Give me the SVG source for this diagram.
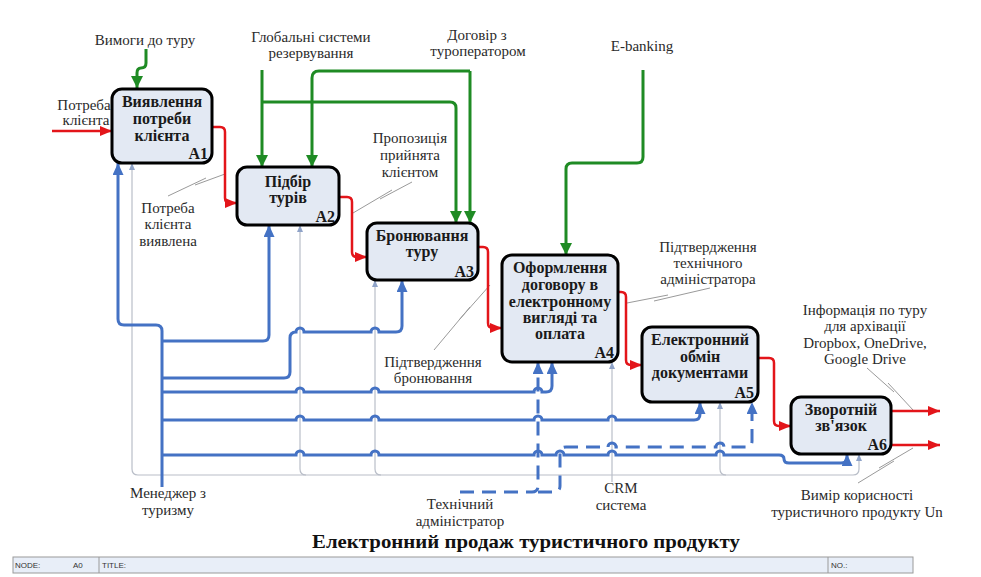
<svg xmlns="http://www.w3.org/2000/svg" width="981" height="577" viewBox="0 0 981 577">
<style>
.bg{fill:#ffffff}
.box{fill:#e3e9f3;stroke:#000;stroke-width:3}
.bt{font-family:"Liberation Serif","Times New Roman",serif;font-weight:bold;font-size:16px;fill:#1a1a1a;text-anchor:middle}
.bn{font-family:"Liberation Serif","Times New Roman",serif;font-weight:bold;font-size:16px;fill:#1a1a1a;text-anchor:end}
.lb{font-family:"Liberation Serif","Times New Roman",serif;font-size:15px;fill:#2a2a2a;text-anchor:middle}
.red{fill:none;stroke:#e3151a;stroke-width:2.5}
.grn{fill:none;stroke:#1f8b24;stroke-width:3}
.blu{fill:none;stroke:#4472c4;stroke-width:3}
.dsh{fill:none;stroke:#4472c4;stroke-width:3;stroke-dasharray:14 8}
.gry{fill:none;stroke:#b9bec8;stroke-width:1.2}
.ldr{fill:none;stroke:#9a9a9a;stroke-width:1}
.bar{fill:#e8eef8;stroke:#9a9a9a;stroke-width:1}
.bartx{font-family:"Liberation Sans",Arial,sans-serif;font-size:8px;fill:#333}
.title{font-family:"Liberation Serif","Times New Roman",serif;font-weight:bold;font-size:19px;fill:#111;text-anchor:middle}
</style>
<defs>
<marker id="mRed" markerUnits="userSpaceOnUse" markerWidth="12" markerHeight="10" refX="12" refY="5" orient="auto"><path d="M0,0 L12,5 L0,10 z" fill="#e3151a"/></marker>
<marker id="mGrn" markerUnits="userSpaceOnUse" markerWidth="12" markerHeight="12" refX="12" refY="6" orient="auto"><path d="M0,0 L12,6 L0,12 z" fill="#1f8b24"/></marker>
<marker id="mBlu" markerUnits="userSpaceOnUse" markerWidth="12" markerHeight="11" refX="12" refY="5.5" orient="auto"><path d="M0,0 L12,5.5 L0,11 z" fill="#4472c4"/></marker>
<marker id="mGry" markerUnits="userSpaceOnUse" markerWidth="7" markerHeight="6" refX="7" refY="3" orient="auto"><path d="M0,0 L7,3 L0,6 z" fill="#8fa3c8"/></marker>
</defs>
<rect class="bg" x="0" y="0" width="981" height="577"/>

<g id="labels">
<text class="lb" x="145" y="45">Вимоги до туру</text>
<text class="lb" x="84" y="110">Потреба</text>
<text class="lb" x="86" y="125">клієнта</text>
<text class="lb" x="311" y="42">Глобальні системи</text>
<text class="lb" x="311" y="58">резервування</text>
<text class="lb" x="477" y="40">Договір з</text>
<text class="lb" x="478" y="56">туроператором</text>
<text class="lb" x="642" y="51">E-banking</text>
<text class="lb" x="410" y="143">Пропозиція</text>
<text class="lb" x="410" y="160">прийнята</text>
<text class="lb" x="410" y="177">клієнтом</text>
<text class="lb" x="168" y="213">Потреба</text>
<text class="lb" x="168" y="229">клієнта</text>
<text class="lb" x="168" y="246">виявлена</text>
<text class="lb" x="708" y="252">Підтвердження</text>
<text class="lb" x="708" y="268">технічного</text>
<text class="lb" x="708" y="284">адміністратора</text>
<text class="lb" x="433" y="367">Підтвердження</text>
<text class="lb" x="433" y="383">бронювання</text>
<text class="lb" x="865" y="315">Інформація по туру</text>
<text class="lb" x="865" y="331">для архівації</text>
<text class="lb" x="865" y="348">Dropbox, OneDrive,</text>
<text class="lb" x="865" y="364">Google Drive</text>
<text class="lb" x="168" y="498">Менеджер з</text>
<text class="lb" x="168" y="515">туризму</text>
<text class="lb" x="460" y="509">Технічний</text>
<text class="lb" x="460" y="526">адміністратор</text>
<text class="lb" x="621" y="493">CRM</text>
<text class="lb" x="621" y="510">система</text>
<text class="lb" x="857" y="500">Вимір корисності</text>
<text class="lb" x="857" y="517">туристичного продукту Un</text>
</g>

<g id="connectors">
<path class="gry" d="M138,475 Q132,475 132,469 V163" marker-end="url(#mGry)"/>
<path class="gry" d="M138,475 H853 Q859,475 859,469 V454" marker-end="url(#mGry)"/>
<path class="gry" d="M306,475 Q300,475 300,469 V225" marker-end="url(#mGry)"/>
<path class="gry" d="M381,475 Q375,475 375,469 V280" marker-end="url(#mGry)"/>
<path class="gry" d="M612,482 V362" marker-end="url(#mGry)"/>
<path class="gry" d="M726,475 Q720,475 720,469 V402" marker-end="url(#mGry)"/>

<path class="ldr" d="M225,174 L195,185 M206,178 L168,196"/>
<path class="ldr" d="M412,182 L380,199 M392,190 L353,213"/>
<path class="ldr" d="M490,285 L459,320 M470,307 L434,350"/>
<path class="ldr" d="M627,303 L668,295 M654,301 L710,288"/>
<path class="ldr" d="M867,368 L894,392 M888,383 L913,410"/>
<path class="ldr" d="M913,448 L879,468 M894,461 L858,483"/>

<path class="red" d="M52,131 H112" marker-end="url(#mRed)"/>
<path class="red" d="M212,127 H220 Q225,127 225,132 V198 Q225,203 230,203 H237" marker-end="url(#mRed)"/>
<path class="red" d="M339,197 H347 Q352,197 352,202 V252 Q352,257 357,257 H367" marker-end="url(#mRed)"/>
<path class="red" d="M478,247 H483 Q488,247 488,252 V323 Q488,328 493,328 H502" marker-end="url(#mRed)"/>
<path class="red" d="M618,292 H621 Q626,292 626,297 V360 Q626,365 631,365 H642" marker-end="url(#mRed)"/>
<path class="red" d="M758,358 H769 Q774,358 774,363 V421 Q774,426 779,426 H791" marker-end="url(#mRed)"/>
<path class="red" d="M891,411 H940" marker-end="url(#mRed)"/>
<path class="red" d="M891,445 H940" marker-end="url(#mRed)"/>

<path class="grn" d="M146,49 V63 Q146,68 141,68 Q137,68 137,73 V88" marker-end="url(#mGrn)"/>
<path class="grn" d="M262,70 V167" marker-end="url(#mGrn)"/>
<path class="grn" d="M262,102 H450 Q456,102 456,108 V223" marker-end="url(#mGrn)"/>
<path class="grn" d="M470,71 V223" marker-end="url(#mGrn)"/>
<path class="grn" d="M470,71 H319 Q312,71 312,78 V167" marker-end="url(#mGrn)"/>
<path class="grn" d="M643,70 V157 Q643,163 637,163 H572 Q566,163 566,169 V255" marker-end="url(#mGrn)"/>

<path class="blu" d="M162,487 V331 Q162,325 156,325 H124 Q118,325 118,319 V163" marker-end="url(#mBlu)"/>
<path class="blu" d="M162,341 H263 Q269,341 269,335 V225" marker-end="url(#mBlu)"/>
<path class="blu" d="M162,378 H284 Q290,378 290,372 V338 Q290,332 296,332 a4,4 0 0 1 8,0 H371 a4,4 0 0 1 8,0 H396 Q402,332 402,326 V280" marker-end="url(#mBlu)"/>
<path class="blu" d="M162,392 H296 a4,4 0 0 1 8,0 H371 a4,4 0 0 1 8,0 H534 a4,4 0 0 1 8,0 H546 Q552,392 552,386 V362" marker-end="url(#mBlu)"/>
<path class="blu" d="M162,420 H296 a4,4 0 0 1 8,0 H371 a4,4 0 0 1 8,0 H534 a4,4 0 0 1 8,0 H608 a4,4 0 0 1 8,0 H694 Q700,420 700,414 V402" marker-end="url(#mBlu)"/>
<path class="blu" d="M162,455 H296 a4,4 0 0 1 8,0 H371 a4,4 0 0 1 8,0 H534 a4,4 0 0 1 8,0 H556 a4,4 0 0 1 8,0 H608 a4,4 0 0 1 8,0 H716 a4,4 0 0 1 8,0 H779 Q784,455 784,459 Q784,463 789,463 H841 Q847,463 847,458 V454" marker-end="url(#mBlu)"/>
<path class="dsh" d="M460,492 H532 Q538,492 538,486 V362" marker-end="url(#mBlu)"/>
<path class="dsh" d="M538,492 H554 Q560,492 560,486 V453 Q560,447 566,447 H608 a4,4 0 0 1 8,0 H716 a4,4 0 0 1 8,0 H746 Q752,447 752,441 V402" marker-end="url(#mBlu)"/>
</g>

<g id="A1">
<rect class="box" x="112" y="89" width="100" height="74" rx="10"/>
<text class="bt" x="162" y="107">Виявлення</text>
<text class="bt" x="162" y="124">потреби</text>
<text class="bt" x="162" y="141">клієнта</text>
<text class="bn" x="208" y="159">A1</text>
</g>
<g id="A2">
<rect class="box" x="237" y="167" width="102" height="58" rx="10"/>
<text class="bt" x="288" y="187">Підбір</text>
<text class="bt" x="288" y="203">турів</text>
<text class="bn" x="335" y="222">A2</text>
</g>
<g id="A3">
<rect class="box" x="367" y="223" width="111" height="57" rx="10"/>
<text class="bt" x="422" y="241">Бронювання</text>
<text class="bt" x="422" y="257">туру</text>
<text class="bn" x="474" y="277">A3</text>
</g>
<g id="A4">
<rect class="box" x="502" y="255" width="116" height="107" rx="10"/>
<text class="bt" x="560" y="273">Оформлення</text>
<text class="bt" x="560" y="290">договору в</text>
<text class="bt" x="560" y="307">електронному</text>
<text class="bt" x="560" y="323">вигляді та</text>
<text class="bt" x="560" y="339">оплата</text>
<text class="bn" x="614" y="358">A4</text>
</g>
<g id="A5">
<rect class="box" x="642" y="327" width="116" height="75" rx="10"/>
<text class="bt" x="700" y="345">Електронний</text>
<text class="bt" x="700" y="362">обмін</text>
<text class="bt" x="700" y="378">документами</text>
<text class="bn" x="754" y="398">A5</text>
</g>
<g id="A6">
<rect class="box" x="791" y="397" width="100" height="57" rx="10"/>
<text class="bt" x="841" y="415">Зворотній</text>
<text class="bt" x="841" y="431">зв'язок</text>
<text class="bn" x="887" y="450">A6</text>
</g>

<g id="footer">
<text class="title" x="526" y="548" textLength="428" lengthAdjust="spacingAndGlyphs">Електронний продаж туристичного продукту</text>
<rect class="bar" x="13" y="557" width="900" height="16"/>
<line x1="99" y1="557" x2="99" y2="573" stroke="#9a9a9a" stroke-width="1"/>
<line x1="828" y1="557" x2="828" y2="573" stroke="#9a9a9a" stroke-width="1"/>
<text class="bartx" x="15" y="568">NODE:</text>
<text class="bartx" x="73" y="568">A0</text>
<text class="bartx" x="102" y="568">TITLE:</text>
<text class="bartx" x="831" y="568">NO.:</text>
</g>
</svg>
